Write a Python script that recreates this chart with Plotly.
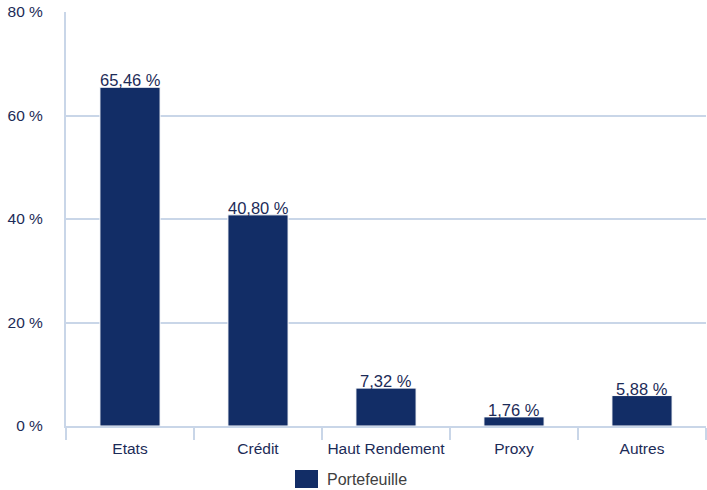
import plotly.graph_objects as go

categories = ["Etats", "Crédit", "Haut Rendement", "Proxy", "Autres"]
values = [65.46, 40.80, 7.32, 1.76, 5.88]
y_ticks = [0, 20, 40, 60, 80]
series_name = "Portefeuille"

BAR = "#122d66"
TEXT = "#1c2b57"
GRID = "#c9d6e8"

labels = [f"{v:.2f}".replace(".", ",") + " %" for v in values]

fig = go.Figure(
    go.Bar(
        x=categories,
        y=values,
        name=series_name,
        marker=dict(color=BAR, line=dict(color="white", width=1)),
        showlegend=False,
    )
)

# Value labels sitting directly on top of each bar
for cat, val, lab in zip(categories, values, labels):
    fig.add_annotation(
        x=cat, y=val, text=lab, showarrow=False,
        xanchor="center", yanchor="bottom", yshift=-4,
        font=dict(size=16.5, color=TEXT),
    )

fig.update_layout(
    width=707,
    height=490,
    margin=dict(l=66, r=1, t=12, b=64),
    paper_bgcolor="white",
    plot_bgcolor="white",
    font=dict(family="Liberation Sans, Arial, sans-serif", color=TEXT, size=15),
    bargap=0.53,
)

fig.update_xaxes(
    type="category",
    showline=True,
    linecolor=GRID,
    linewidth=2,
    ticks="outside",
    tickson="boundaries",
    ticklen=12,
    tickcolor=GRID,
    tickwidth=2,
    ticklabelstandoff=7,
    tickfont=dict(size=15.5, color=TEXT),
    showgrid=False,
)

fig.update_yaxes(
    range=[0, 80],
    tickvals=y_ticks,
    ticktext=[f"{t} %" for t in y_ticks],
    showgrid=True,
    gridcolor=GRID,
    gridwidth=2,
    showline=True,
    linecolor=GRID,
    linewidth=2,
    zeroline=False,
    ticks="",
    ticklabelstandoff=18,
    tickfont=dict(size=15.5, color=TEXT),
)

# Legend drawn as a swatch plus label below the plot area
plot_w, plot_h = 640, 414
def px_x(px):
    return (px - 66) / plot_w
def px_y(py):
    return (426 - py) / plot_h

fig.add_shape(
    type="rect", xref="paper", yref="paper",
    x0=px_x(295), x1=px_x(318), y0=px_y(488), y1=px_y(470),
    fillcolor=BAR, line=dict(width=0),
)
fig.add_annotation(
    xref="paper", yref="paper",
    x=px_x(325), y=px_y(479),
    text=series_name, showarrow=False,
    xanchor="left", yanchor="middle",
    font=dict(size=16, color="#404040"),
)

fig.write_html("out.html")
